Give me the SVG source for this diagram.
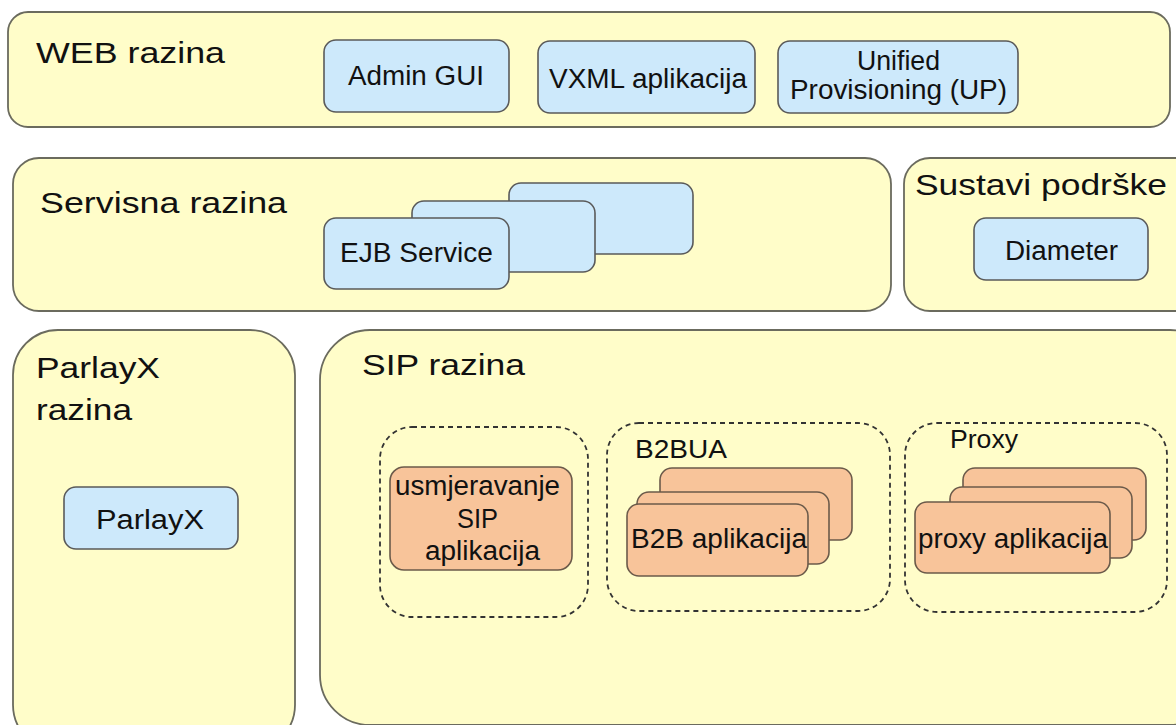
<svg xmlns="http://www.w3.org/2000/svg" width="1176" height="725" viewBox="0 0 1176 725">
<style>
.panel{fill:#fffdc9;stroke:#6b6b5e;stroke-width:1.8}
.blue{fill:#cde9fb;stroke:#5a5a5a;stroke-width:1.6}
.orange{fill:#f8c49a;stroke:#6b5a4a;stroke-width:1.6}
.dash{fill:none;stroke:#333;stroke-width:1.8;stroke-dasharray:5 4}
.title{font-family:"Liberation Sans",Arial,sans-serif;font-size:29px;fill:#111}
.lbl{font-family:"Liberation Sans",Arial,sans-serif;font-size:27px;fill:#111}
.sub{font-family:"Liberation Sans",Arial,sans-serif;font-size:25px;fill:#111}
</style>
<rect width="1176" height="725" fill="#ffffff"/>

<g id="web">
<rect class="panel" x="8" y="12" width="1162" height="115" rx="20"/>
<text class="title" x="36" y="63" textLength="189" lengthAdjust="spacingAndGlyphs">WEB razina</text>
</g>
<g id="admin-gui">
<rect class="blue" x="324" y="40" width="185" height="72" rx="12"/>
<text class="lbl" x="348" y="85" textLength="136" lengthAdjust="spacingAndGlyphs">Admin GUI</text>
</g>
<g id="vxml">
<rect class="blue" x="538" y="41" width="217" height="72" rx="12"/>
<text class="lbl" x="549" y="88" textLength="198" lengthAdjust="spacingAndGlyphs">VXML aplikacija</text>
</g>
<g id="up">
<rect class="blue" x="778" y="41" width="240" height="72" rx="12"/>
<text class="lbl" x="857" y="70" textLength="83" lengthAdjust="spacingAndGlyphs">Unified</text>
<text class="lbl" x="790" y="99" textLength="217" lengthAdjust="spacingAndGlyphs">Provisioning (UP)</text>
</g>

<g id="servisna">
<rect class="panel" x="13" y="158" width="878" height="153" rx="26"/>
<text class="title" x="40" y="213" textLength="247" lengthAdjust="spacingAndGlyphs">Servisna razina</text>
</g>
<g id="ejb">
<rect class="blue" x="509" y="183" width="184" height="71" rx="12"/>
<rect class="blue" x="412" y="201" width="183" height="71" rx="12"/>
<rect class="blue" x="324" y="218" width="185" height="71" rx="12"/>
<text class="lbl" x="340" y="262" textLength="153" lengthAdjust="spacingAndGlyphs">EJB Service</text>
</g>

<g id="sustavi">
<rect class="panel" x="904" y="158" width="300" height="153" rx="26"/>
<text class="title" x="915" y="195" textLength="252" lengthAdjust="spacingAndGlyphs">Sustavi podrške</text>
</g>
<g id="diameter">
<rect class="blue" x="974" y="218" width="174" height="62" rx="12"/>
<text class="lbl" x="1005" y="260" textLength="113" lengthAdjust="spacingAndGlyphs">Diameter</text>
</g>

<g id="parlayx-razina">
<rect class="panel" x="13" y="330" width="282" height="420" rx="45"/>
<text class="title" x="36" y="378" textLength="124" lengthAdjust="spacingAndGlyphs">ParlayX</text>
<text class="title" x="36" y="420" textLength="96" lengthAdjust="spacingAndGlyphs">razina</text>
</g>
<g id="parlayx">
<rect class="blue" x="64" y="487" width="174" height="62" rx="12"/>
<text class="lbl" x="96" y="529" textLength="108" lengthAdjust="spacingAndGlyphs">ParlayX</text>
</g>

<g id="sip">
<rect class="panel" x="320" y="330" width="900" height="395" rx="50"/>
<text class="title" x="362" y="375" textLength="163" lengthAdjust="spacingAndGlyphs">SIP razina</text>
</g>

<g id="usmjeravanje">
<rect class="dash" x="380" y="427" width="208" height="190" rx="32"/>
<rect class="orange" x="390" y="467" width="182" height="103" rx="14"/>
<text class="lbl" x="395" y="495" textLength="165" lengthAdjust="spacingAndGlyphs">usmjeravanje</text>
<text class="lbl" x="457" y="528" textLength="41" lengthAdjust="spacingAndGlyphs">SIP</text>
<text class="lbl" x="425" y="560" textLength="115" lengthAdjust="spacingAndGlyphs">aplikacija</text>
</g>

<g id="b2bua">
<rect class="dash" x="607" y="423" width="283" height="188" rx="32"/>
<text class="sub" x="635" y="458" textLength="92" lengthAdjust="spacingAndGlyphs">B2BUA</text>
<rect class="orange" x="660" y="468" width="192" height="72" rx="12"/>
<rect class="orange" x="637" y="492" width="192" height="72" rx="12"/>
<rect class="orange" x="627" y="504" width="181" height="72" rx="12"/>
<text class="lbl" x="631" y="548" textLength="176" lengthAdjust="spacingAndGlyphs">B2B aplikacija</text>
</g>

<g id="proxy">
<rect class="dash" x="905" y="423" width="262" height="189" rx="32"/>
<text class="sub" x="950" y="448" textLength="68" lengthAdjust="spacingAndGlyphs">Proxy</text>
<rect class="orange" x="963" y="468" width="183" height="72" rx="12"/>
<rect class="orange" x="950" y="487" width="182" height="71" rx="12"/>
<rect class="orange" x="915" y="502" width="195" height="71" rx="12"/>
<text class="lbl" x="918" y="548" textLength="190" lengthAdjust="spacingAndGlyphs">proxy aplikacija</text>
</g>

<g id="connectors"></g>
</svg>
